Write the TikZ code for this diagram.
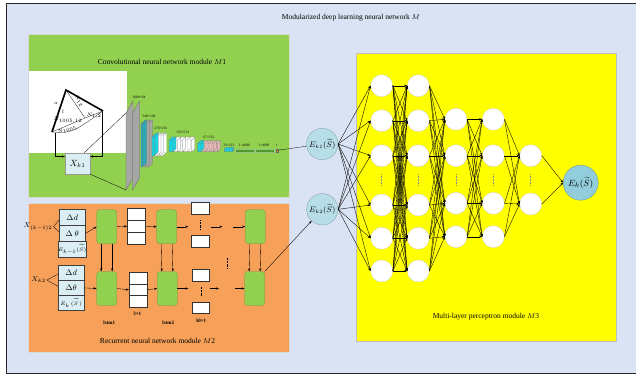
\documentclass[tikz,border=0pt]{standalone}
\usepackage{fontspec}
\setmainfont{Liberation Serif}
\usetikzlibrary{arrows.meta}
\definecolor{outerbg}{HTML}{DAE3F3}
\definecolor{cnngreen}{HTML}{92D050}
\definecolor{rnnorange}{HTML}{F6A05A}
\definecolor{mlpyellow}{HTML}{FFFF00}
\definecolor{inblue}{HTML}{DAEEF3}
\definecolor{eblue}{HTML}{B7DEE8}
\definecolor{outblue}{HTML}{92CDDC}
\definecolor{slabgray}{HTML}{A6A6A6}
\definecolor{slabcyan}{HTML}{19D3E0}
\definecolor{slabteal}{HTML}{2AA8B8}
\definecolor{slabpink}{HTML}{E6B9B8}
\definecolor{bargreen}{HTML}{4F9A2A}
\definecolor{barorange}{HTML}{E88A1A}

% one slice of a feature map: x, ytop, ybot, width, depth, colour
\newcommand{\cnnslice}[6]{%
  \filldraw[fill=#6, draw=black!55, line width=0.2pt] (#1,#2+#5) -- (#1+#5,#2) -- (#1+#4+#5,#2) -- (#1+#4+#5,#3-#5) -- (#1+#4,#3) -- (#1,#3) -- cycle;
  \draw[black!55, line width=0.2pt] (#1,#2+#5) -- (#1+#4,#2+#5) -- (#1+#4+#5,#2) (#1+#4,#2+#5) -- (#1+#4,#3);
}

\begin{document}
\begin{tikzpicture}[x=1pt, y=-1pt, font=\fontsize{7.5}{9}\selectfont,
  arr/.style={-{Stealth[length=3pt,width=2.2pt]}, line width=0.35pt},
  neuron/.style={circle, fill=white, draw=black!20, line width=0.3pt, minimum size=22pt, inner sep=0pt},
  einput/.style={circle, fill=eblue, draw=eblue!70!black, line width=0.3pt, minimum size=31.4pt, inner sep=0pt, font=\fontsize{7.6}{8}\selectfont},
  outnode/.style={circle, fill=outblue, draw=outblue!70!black, line width=0.3pt, minimum size=35pt, inner sep=0pt, font=\fontsize{9.5}{10}\selectfont},
  inbox/.style={draw=black!75, fill=inblue, line width=0.5pt, minimum width=25.7pt, inner sep=0pt, font=\fontsize{8}{9}\selectfont},
  lstmcell/.style={draw=cnngreen!75!black, fill=cnngreen, line width=0.3pt, rounded corners=3pt, minimum width=20pt, minimum height=34pt, inner sep=0pt},
  vecbox/.style={draw=black!80, fill=white, line width=0.5pt, minimum width=17.7pt, minimum height=11.7pt, inner sep=0pt},
  sizelab/.style={font=\fontsize{3.6}{4}\selectfont, inner sep=0pt},
  tinylab/.style={font=\fontsize{2.8}{3}\selectfont, inner sep=0pt},
  rnnlab/.style={font=\bfseries\fontsize{5}{6}\selectfont, inner sep=0pt}]

\useasboundingbox (0,0) rectangle (636,374);

% frames
\filldraw[fill=outerbg, draw=black!85, line width=1pt] (6,4) rectangle (640,373);
\filldraw[fill=cnngreen, draw=black!15, line width=0.3pt] (28,34) rectangle (289,197);
\filldraw[fill=rnnorange, draw=black!15, line width=0.3pt] (28,203) rectangle (289,352);
\filldraw[fill=mlpyellow, draw=black!25, line width=0.3pt] (356,53) rectangle (616,341);

\node (title) at (351,18) {Modularized deep learning neural network $M$};
\node (cnntitle) at (162,62) {Convolutional neural network module $M$1};
\node (rnntitle) at (157.5,340.5) {Recurrent neural network module $M$2};
\node (mlptitle) at (486,317) {Multi-layer perceptron module $M$3};

% ---- CNN module M1
\fill[white] (29,71) rectangle (126.5,153);
\coordinate (tA) at (52,132);
\coordinate (tB) at (66,90);
\coordinate (tC) at (103,111);
\coordinate (tO) at (85,118);
\draw[line width=0.25pt] (tB) -- (tO) -- (tA) (tO) -- (tC);
\draw[line width=0.25pt] (tA) .. controls (72,133) .. (tC);
\draw[line width=1.6pt] (tA) -- (tB) -- (tC);
\node[tinylab] (t1) at (68,120.5) {$N_{1005,12}$};
\node[tinylab, rotate=18] (t2) at (67,130) {$N_{1005}$};
\node[tinylab] (t3) at (94,116) {$N_{1,2}$};
\node[tinylab, rotate=-55] (t4) at (79,101) {$N_{12}$};
\node[tinylab] (t5) at (56,103) {$a$};
\node[tinylab] (t6) at (63,112) {$l$};

\node[draw=black!40, fill=inblue, line width=0.3pt, minimum width=25pt, minimum height=21pt, inner sep=0pt, font=\fontsize{9}{10}\selectfont] (xk1) at (77.5,163.5) {$X_{k1}$};
\coordinate (brL) at (55,133);
\coordinate (brR) at (102,112);
\draw[arr] (brL) |- ([yshift=7pt]xk1.west);
\draw[arr] (brR) |- ([yshift=7pt]xk1.east);

% feature maps
\coordinate (s1tl) at (126,113);
\coordinate (s1bl) at (126,190);
\filldraw[fill=slabgray, draw=black!60, line width=0.3pt] (126,113) -- (133,101) -- (133,178) -- (126,190) -- cycle;
\filldraw[fill=slabgray, draw=black!60, line width=0.3pt] (132.5,113) -- (139.5,101) -- (139.5,178) -- (132.5,190) -- cycle;
\draw[line width=0.3pt] ([xshift=-6pt]xk1.north east) -- (s1tl);
\draw[line width=0.3pt] (xk1.south east) -- (s1bl);
\cnnslice{147}{120}{167}{1.5}{4}{slabgray}
\cnnslice{144}{120}{167}{1.5}{4}{slabgray}
\cnnslice{141}{120}{167}{1.5}{4}{slabteal}
\foreach \sx in {160.4,157.6,154.8} {\cnnslice{\sx}{133}{156}{2.2}{4}{white}}
\cnnslice{152}{133}{156}{2.2}{4}{slabcyan}
\foreach \sx in {187.8,183.1,178.4,173.7} {\cnnslice{\sx}{137}{151.7}{4}{3}{white}}
\cnnslice{169}{137}{151.7}{4}{3}{slabcyan}
\foreach \sx in {213.9,209.8,205.7,201.6} {\cnnslice{\sx}{140.7}{151.7}{3.4}{3}{slabpink}}
\cnnslice{197.5}{140.7}{151.7}{3.4}{3}{slabcyan}
\cnnslice{224.3}{147.5}{151.7}{8}{1.5}{slabcyan}
\filldraw[fill=bargreen, draw=bargreen!60!white, line width=0.3pt] (235,148.7) rectangle (254,151.7);
\filldraw[fill=bargreen, draw=bargreen!60!white, line width=0.3pt] (255,148.7) rectangle (274,151.7);
\node[draw=black!60, fill=barorange, line width=0.2pt, minimum width=2.3pt, minimum height=3pt, inner sep=0pt] (cnnout) at (276.8,150.2) {};

\node[sizelab] (l1) at (139,97) {1080×64};
\node[sizelab] (l2) at (149,116) {540×128};
\node[sizelab] (l3) at (160.7,128.3) {270×256};
\node[sizelab] (l4) at (182.7,132.3) {135×512};
\node[sizelab] (l5) at (209,137.7) {67×512};
\node[sizelab] (l6) at (229,145) {33×512};
\node[sizelab] (l7) at (244.5,145.5) {1×4096};
\node[sizelab] (l8) at (264,145.5) {1×4096};
\node[sizelab] (l9) at (276.5,145.5) {1};

% ---- RNN module M2
\node[inbox, minimum height=16.1pt] (inA1) at (72.2,217.4) {$\Delta d$};
\node[inbox, minimum height=16.1pt] (inA2) at (72.2,233.5) {$\Delta\ \theta$};
\node[inbox, minimum height=16.1pt, font=\fontsize{4.8}{5}\selectfont] (inA3) at (72.2,249.6) {$E_{k-1}(\widetilde{S})$};
\node[inbox, minimum height=14.8pt] (inB1) at (71.2,273.1) {$\Delta d$};
\node[inbox, minimum height=14.8pt] (inB2) at (71.2,287.9) {$\Delta\theta$};
\node[inbox, minimum height=14.8pt, font=\fontsize{5}{5.5}\selectfont] (inB3) at (71.2,302.6) {$E_{k}\,(\widetilde{S}\,)$};

\node[font=\fontsize{7}{8}\selectfont, inner sep=0pt] (xA) at (38,226.7) {$X_{(k-1)2}$};
\node[font=\fontsize{7.5}{9}\selectfont, inner sep=0pt] (xB) at (38.5,280) {$X_{k2}$};
\draw[line width=0.3pt] ([xshift=1pt]xA.east) -- ([yshift=-2.5pt]inA1.west);
\draw[line width=0.3pt] ([xshift=1pt]xA.east) -- ([yshift=1.5pt]inA2.west);
\draw[line width=0.3pt] ([xshift=1pt]xB.east) -- ([yshift=-1pt]inB1.west);
\draw[line width=0.3pt] ([xshift=1pt]xB.east) -- ([yshift=1.5pt]inB2.west);

\node[lstmcell] (cellA1) at (106.7,226.7) {};
\node[lstmcell] (cellA2) at (166.7,226.7) {};
\node[lstmcell] (cellA3) at (255.3,226.7) {};
\node[lstmcell] (cellB1) at (106.7,288.5) {};
\node[lstmcell] (cellB2) at (167.3,288.5) {};
\node[lstmcell] (cellB3) at (254.7,288.5) {};

\node[vecbox] (vA1) at (136.2,214.5) {};
\node[vecbox] (vA2) at (136.2,226.2) {};
\node[vecbox] (vA3) at (136.2,237.9) {};
\node[vecbox] (vB1) at (137.9,278.1) {};
\node[vecbox] (vB2) at (137.9,289.8) {};
\node[vecbox] (vB3) at (137.9,301.5) {};
\node[vecbox] (wA1) at (200.5,208.2) {};
\node[vecbox] (wA2) at (200.5,241.5) {};
\node[vecbox] (wB1) at (200.8,274.9) {};
\node[vecbox] (wB2) at (200.8,307.8) {};
\draw[densely dotted, line width=0.4pt, shorten <=6pt, shorten >=6pt] (wA1.south) -- (wA2.north);
\draw[densely dotted, line width=0.4pt, shorten <=6pt, shorten >=6pt] (wB1.south) -- (wB2.north);
\draw[densely dotted, line width=0.4pt] (226.7,258) -- (226.7,268);

\coordinate (pA1) at (188.3,226.7);
\coordinate (pA2) at (211,226.7);
\coordinate (pA3) at (222.3,226.7);
\coordinate (pA4) at (233.3,226.7);
\coordinate (pB1) at (188.3,288.5);
\coordinate (pB2) at (210,288.5);
\coordinate (pB3) at (219,288.5);
\coordinate (pB4) at (235,288.5);

\draw[arr] (inA2.east) -- (cellA1.west);
\draw[arr] (cellA1.east) -- (vA2.west);
\draw[arr] (vA2.east) -- (cellA2.west);
\draw[arr] (cellA2.east) -- (pA1);
\draw[arr] (pA2) -- (pA3);
\draw[arr] (pA4) -- (cellA3.west);
\draw[arr] (inB2.east) -- (cellB1.west);
\draw[arr] (cellB1.east) -- (vB2.west);
\draw[arr] (vB2.east) -- (cellB2.west);
\draw[arr] (cellB2.east) -- (pB1);
\draw[arr] (pB2) -- (pB3);
\draw[arr] (pB4) -- (cellB3.west);
\foreach \c in {1,2,3} {
  \draw[arr] ([xshift=-5.5pt]cellA\c.south) -- ([xshift=-5.5pt]cellB\c.north);
  \draw[arr] ([xshift=5.5pt]cellA\c.south) -- ([xshift=5.5pt]cellB\c.north);
}

\node[rnnlab] (r1) at (137.3,314) {3×1};
\node[rnnlab] (r2) at (109.3,322.3) {lstm1};
\node[rnnlab] (r3) at (168.3,322.3) {lstm2};
\node[rnnlab] (r4) at (201,320.7) {50×1};

% ---- module outputs
\node[einput] (ek1) at (322.3,144) {$E_{k1}(\widetilde{S})$};
\node[einput] (ek2) at (322.3,209.3) {$E_{k2}(\widetilde{S})$};
\draw[line width=0.3pt] (cnnout.east) -- (ek1);
\draw[arr] (cellB3.north east) -- (ek2);

% ---- MLP module M3
\foreach \j/\y in {1/85.7,2/120.7,3/155.7,4/205,5/238.3,6/271} {
  \node[neuron] (a\j) at (381.7,\y) {};
  \node[neuron] (b\j) at (418.3,\y) {};
}
\foreach \j/\y in {1/119.3,2/155.7,3/203.3,4/236.7} {
  \node[neuron] (c\j) at (456,\y) {};
  \node[neuron] (d\j) at (493.3,\y) {};
}
\foreach \j/\y in {1/155.7,2/204} {
  \node[neuron] (e\j) at (530.7,\y) {};
}
\node[outnode] (ek) at (580.7,182.7) {$E_k(\widetilde{S})$};

\foreach \cx in {381.7,418.3,456,493.3,530.7} {
  \draw[densely dotted, black!45, line width=0.5pt] (\cx,174) -- (\cx,186);
}

\foreach \i in {1,...,6} {
  \draw[arr] (ek1.east) -- (a\i.west);
  \draw[arr] (ek2.east) -- (a\i.west);
  \foreach \j in {1,...,6} {\draw[arr] (a\i.east) -- (b\j.west);}
  \foreach \j in {1,...,4} {\draw[arr] (b\i.east) -- (c\j.west);}
}
\foreach \i in {1,...,4} {
  \foreach \j in {1,...,4} {\draw[arr] (c\i.east) -- (d\j.west);}
  \foreach \j in {1,2} {\draw[arr] (d\i.east) -- (e\j.west);}
}
\foreach \i in {1,2} {\draw[arr] (e\i.east) -- (ek.west);}

\end{tikzpicture}
\end{document}
